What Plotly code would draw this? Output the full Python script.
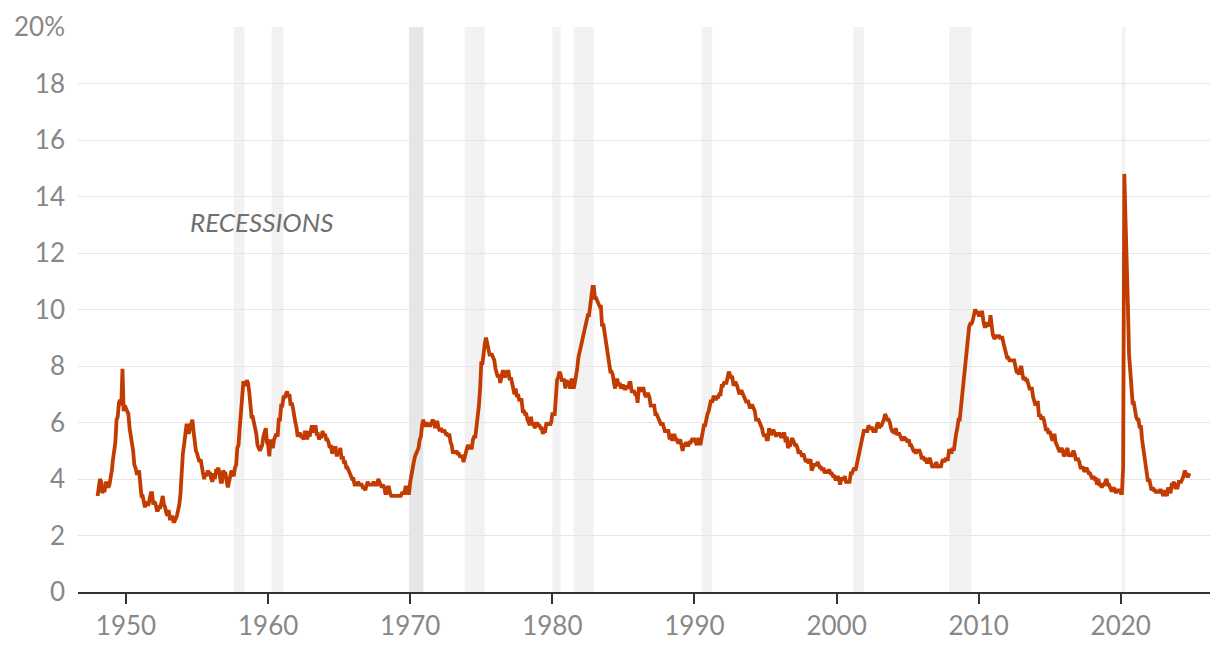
import plotly.graph_objects as go

# Monthly U.S. unemployment rate (%), starting January 1948
rate_1940s = [
    3.4, 3.8, 4.0, 3.9, 3.5, 3.6, 3.6, 3.9, 3.8, 3.7, 3.8, 4.0,
    4.3, 4.7, 5.0, 5.3, 6.1, 6.2, 6.7, 6.8, 6.6, 7.9, 6.4, 6.6,
]
rate_1950s = [
    6.5, 6.4, 6.3, 5.8, 5.5, 5.4, 5.0, 4.5, 4.4, 4.2, 4.2, 4.3,
    3.7, 3.4, 3.4, 3.1, 3.0, 3.2, 3.1, 3.1, 3.3, 3.5, 3.5, 3.1,
    3.2, 3.1, 2.9, 2.9, 3.0, 3.0, 3.2, 3.4, 3.1, 3.0, 2.8, 2.7,
    2.9, 2.6, 2.6, 2.7, 2.5, 2.5, 2.6, 2.7, 2.9, 3.1, 3.5, 4.5,
    4.9, 5.2, 5.7, 5.9, 5.9, 5.6, 5.8, 6.0, 6.1, 5.7, 5.3, 5.0,
    4.9, 4.7, 4.6, 4.7, 4.3, 4.2, 4.0, 4.2, 4.1, 4.3, 4.2, 4.2,
    4.0, 3.9, 4.2, 4.0, 4.3, 4.3, 4.4, 4.1, 3.9, 3.9, 4.3, 4.2,
    4.2, 3.9, 3.7, 3.9, 4.1, 4.3, 4.2, 4.1, 4.4, 4.5, 5.1, 5.2,
    5.8, 6.4, 6.7, 7.4, 7.4, 7.3, 7.5, 7.4, 7.1, 6.7, 6.2, 6.2,
    6.0, 5.9, 5.6, 5.2, 5.1, 5.0, 5.1, 5.2, 5.5, 5.7, 5.8, 5.3,
]
rate_1960s = [
    5.2, 4.8, 5.4, 5.2, 5.1, 5.4, 5.5, 5.6, 5.5, 6.1, 6.1, 6.6,
    6.6, 6.9, 6.9, 7.0, 7.1, 6.9, 7.0, 6.6, 6.7, 6.5, 6.1, 6.0,
    5.8, 5.5, 5.6, 5.6, 5.5, 5.5, 5.4, 5.7, 5.6, 5.4, 5.7, 5.5,
    5.7, 5.9, 5.7, 5.7, 5.9, 5.6, 5.6, 5.4, 5.5, 5.5, 5.7, 5.5,
    5.6, 5.4, 5.4, 5.3, 5.1, 5.2, 4.9, 5.0, 5.1, 5.1, 4.8, 5.0,
    4.9, 5.1, 4.7, 4.8, 4.6, 4.6, 4.4, 4.4, 4.3, 4.2, 4.1, 4.0,
    4.0, 3.8, 3.8, 3.8, 3.9, 3.8, 3.8, 3.8, 3.7, 3.7, 3.6, 3.8,
    3.9, 3.8, 3.8, 3.8, 3.8, 3.9, 3.8, 3.8, 3.8, 4.0, 3.9, 3.8,
    3.7, 3.8, 3.7, 3.5, 3.5, 3.7, 3.7, 3.5, 3.4, 3.4, 3.4, 3.4,
    3.4, 3.4, 3.4, 3.4, 3.4, 3.5, 3.5, 3.5, 3.7, 3.7, 3.5, 3.5,
]
rate_1970s = [
    3.9, 4.2, 4.4, 4.6, 4.8, 4.9, 5.0, 5.1, 5.4, 5.5, 5.9, 6.1,
    5.9, 5.9, 6.0, 5.9, 5.9, 5.9, 6.0, 6.1, 6.0, 5.8, 6.0, 6.0,
    5.8, 5.7, 5.8, 5.7, 5.7, 5.7, 5.6, 5.6, 5.5, 5.6, 5.3, 5.2,
    4.9, 5.0, 4.9, 5.0, 4.9, 4.9, 4.8, 4.8, 4.8, 4.6, 4.8, 4.9,
    5.1, 5.2, 5.1, 5.1, 5.1, 5.4, 5.5, 5.5, 5.9, 6.0, 6.6, 7.2,
    8.1, 8.1, 8.6, 8.8, 9.0, 8.8, 8.6, 8.4, 8.4, 8.4, 8.3, 8.2,
    7.9, 7.7, 7.6, 7.7, 7.4, 7.6, 7.8, 7.8, 7.6, 7.7, 7.8, 7.8,
    7.5, 7.6, 7.4, 7.2, 7.0, 7.2, 6.9, 7.0, 6.8, 6.8, 6.8, 6.4,
    6.4, 6.3, 6.3, 6.1, 6.0, 5.9, 6.2, 5.9, 6.0, 5.8, 5.9, 6.0,
    5.9, 5.9, 5.8, 5.8, 5.6, 5.7, 5.7, 6.0, 5.9, 6.0, 5.9, 6.0,
]
rate_1980s = [
    6.3, 6.3, 6.3, 6.9, 7.5, 7.6, 7.8, 7.7, 7.5, 7.5, 7.5, 7.2,
    7.5, 7.4, 7.4, 7.2, 7.5, 7.5, 7.2, 7.4, 7.6, 7.9, 8.3, 8.5,
    8.6, 8.9, 9.0, 9.3, 9.4, 9.6, 9.8, 9.8, 10.1, 10.4, 10.8, 10.8,
    10.4, 10.4, 10.3, 10.2, 10.1, 10.1, 9.4, 9.5, 9.2, 8.8, 8.5, 8.3,
    8.0, 7.8, 7.8, 7.7, 7.4, 7.2, 7.5, 7.5, 7.3, 7.4, 7.2, 7.3,
    7.3, 7.2, 7.2, 7.3, 7.2, 7.4, 7.4, 7.1, 7.1, 7.1, 7.0, 7.0,
    6.7, 7.2, 7.2, 7.1, 7.2, 7.2, 7.0, 6.9, 7.0, 7.0, 6.9, 6.6,
    6.6, 6.6, 6.6, 6.3, 6.3, 6.2, 6.1, 6.0, 5.9, 6.0, 5.8, 5.7,
    5.7, 5.7, 5.7, 5.4, 5.6, 5.4, 5.4, 5.6, 5.4, 5.4, 5.3, 5.3,
    5.4, 5.2, 5.0, 5.2, 5.2, 5.3, 5.2, 5.2, 5.3, 5.3, 5.4, 5.4,
]
rate_1990s = [
    5.4, 5.3, 5.2, 5.4, 5.4, 5.2, 5.5, 5.7, 5.9, 5.9, 6.2, 6.3,
    6.4, 6.6, 6.8, 6.7, 6.9, 6.9, 6.8, 6.9, 6.9, 7.0, 7.0, 7.3,
    7.3, 7.4, 7.4, 7.4, 7.6, 7.8, 7.7, 7.6, 7.6, 7.3, 7.4, 7.4,
    7.3, 7.1, 7.0, 7.1, 7.1, 7.0, 6.9, 6.8, 6.7, 6.8, 6.6, 6.5,
    6.6, 6.6, 6.5, 6.4, 6.1, 6.1, 6.1, 6.0, 5.9, 5.8, 5.6, 5.5,
    5.6, 5.4, 5.4, 5.8, 5.6, 5.6, 5.7, 5.7, 5.6, 5.5, 5.6, 5.6,
    5.6, 5.5, 5.5, 5.6, 5.6, 5.3, 5.5, 5.1, 5.2, 5.2, 5.4, 5.4,
    5.3, 5.2, 5.2, 5.1, 4.9, 5.0, 4.9, 4.8, 4.9, 4.7, 4.6, 4.7,
    4.6, 4.6, 4.7, 4.3, 4.4, 4.5, 4.5, 4.5, 4.6, 4.5, 4.4, 4.4,
    4.3, 4.4, 4.2, 4.3, 4.2, 4.3, 4.3, 4.2, 4.2, 4.1, 4.1, 4.0,
]
rate_2000s = [
    4.0, 4.1, 4.0, 3.8, 4.0, 4.0, 4.0, 4.1, 3.9, 3.9, 3.9, 3.9,
    4.2, 4.2, 4.3, 4.4, 4.3, 4.5, 4.6, 4.9, 5.0, 5.3, 5.5, 5.7,
    5.7, 5.7, 5.7, 5.9, 5.8, 5.8, 5.8, 5.7, 5.7, 5.7, 5.9, 6.0,
    5.8, 5.9, 5.9, 6.0, 6.1, 6.3, 6.2, 6.1, 6.1, 6.0, 5.8, 5.7,
    5.7, 5.6, 5.8, 5.6, 5.6, 5.6, 5.5, 5.4, 5.4, 5.5, 5.4, 5.4,
    5.3, 5.4, 5.2, 5.2, 5.1, 5.0, 5.0, 4.9, 5.0, 5.0, 5.0, 4.9,
    4.7, 4.8, 4.7, 4.7, 4.6, 4.6, 4.7, 4.7, 4.5, 4.4, 4.5, 4.4,
    4.6, 4.5, 4.4, 4.5, 4.4, 4.6, 4.7, 4.6, 4.7, 4.7, 4.7, 5.0,
    5.0, 4.9, 5.1, 5.0, 5.4, 5.6, 5.8, 6.1, 6.1, 6.5, 6.8, 7.3,
    7.8, 8.3, 8.7, 9.0, 9.4, 9.5, 9.5, 9.6, 9.8, 10.0, 9.9, 9.9,
]
rate_2010s = [
    9.8, 9.8, 9.9, 9.9, 9.6, 9.4, 9.4, 9.5, 9.5, 9.4, 9.8, 9.3,
    9.1, 9.0, 9.0, 9.1, 9.0, 9.1, 9.0, 9.0, 9.0, 8.8, 8.6, 8.5,
    8.3, 8.3, 8.2, 8.2, 8.2, 8.2, 8.2, 8.0, 7.8, 7.8, 7.7, 7.9,
    8.0, 7.7, 7.5, 7.6, 7.5, 7.5, 7.3, 7.2, 7.2, 7.2, 6.9, 6.7,
    6.6, 6.7, 6.7, 6.2, 6.3, 6.1, 6.2, 6.1, 5.9, 5.7, 5.8, 5.6,
    5.7, 5.5, 5.4, 5.4, 5.6, 5.3, 5.2, 5.1, 5.0, 5.0, 5.1, 5.0,
    4.8, 4.9, 5.0, 5.1, 4.8, 4.9, 4.8, 4.9, 5.0, 4.9, 4.7, 4.7,
    4.7, 4.6, 4.4, 4.4, 4.4, 4.3, 4.3, 4.4, 4.3, 4.2, 4.2, 4.1,
    4.0, 4.1, 4.0, 4.0, 3.8, 4.0, 3.8, 3.8, 3.7, 3.8, 3.8, 3.9,
    4.0, 3.8, 3.8, 3.7, 3.6, 3.6, 3.7, 3.6, 3.5, 3.6, 3.6, 3.6,
]
rate_2020s = [
    3.5, 3.5, 4.4, 14.8, 13.2, 11.0, 10.2, 8.4, 7.8, 6.9, 6.7, 6.7,
    6.4, 6.2, 6.1, 6.1, 5.8, 5.9, 5.4, 5.1, 4.7, 4.5, 4.2, 3.9,
    4.0, 3.8, 3.6, 3.7, 3.6, 3.6, 3.5, 3.6, 3.5, 3.6, 3.6, 3.5,
    3.4, 3.6, 3.5, 3.4, 3.7, 3.6, 3.5, 3.8, 3.8, 3.9, 3.7, 3.7,
    3.7, 3.9, 3.9, 3.9, 4.0, 4.1, 4.3, 4.2, 4.1, 4.1, 4.2,
]
start_year = 1948

# Recessions (decimal years) shown as shaded bands
recession_start = [1957.58, 1960.25, 1969.92, 1973.83, 1980.0, 1981.5, 1990.5, 2001.17, 2007.92, 2020.08]
recession_end = [1958.33, 1961.08, 1970.92, 1975.25, 1980.58, 1982.92, 1991.25, 2001.92, 2009.5, 2020.33]

tick_years = [1950, 1960, 1970, 1980, 1990, 2000, 2010, 2020]
y_ticks = [0, 2, 4, 6, 8, 10, 12, 14, 16, 18, 20]
y_tick_text = ["0", "2", "4", "6", "8", "10", "12", "14", "16", "18", "20%"]

rates = rate_1940s + rate_1950s + rate_1960s + rate_1970s + rate_1980s + rate_1990s + rate_2000s + rate_2010s + rate_2020s
x_vals = [start_year + i / 12 for i in range(len(rates))]

fig = go.Figure()

shapes = []
for s, e in zip(recession_start, recession_end):
    color = "#e6e6e6" if s == 1969.92 else "#f2f2f2"
    shapes.append(dict(type="rect", xref="x", yref="y", x0=s, x1=e, y0=0, y1=20,
                       fillcolor=color, line=dict(width=0), layer="below"))

fig.add_trace(go.Scatter(
    x=x_vals, y=rates, mode="lines",
    line=dict(color="#c23c02", width=3.8),
    hoverinfo="skip", showlegend=False,
))

fig.add_annotation(
    x=1954.35, y=13.1, xref="x", yref="y", text="<i>RECESSIONS</i>", showarrow=False,
    xanchor="left", yanchor="middle", font=dict(family="Lato", size=26, color="#6f6f6f"),
)

fig.update_layout(
    width=1204, height=642,
    margin=dict(l=70, r=2, t=19, b=58),
    plot_bgcolor="white", paper_bgcolor="white",
    shapes=shapes,
    font=dict(family="Lato", size=26, color="#888888"),
    xaxis=dict(
        range=[1946.62, 2026.28], tickmode="array", tickvals=tick_years,
        ticktext=[str(t) for t in tick_years],
        showgrid=False, zeroline=False, showline=True, linecolor="#333333", linewidth=2,
        ticks="outside", ticklen=10, tickwidth=2, tickcolor="#333333",
        tickfont=dict(family="Lato", size=26, color="#888888"),
    ),
    yaxis=dict(
        range=[0, 20], tickmode="array", tickvals=y_ticks, ticktext=y_tick_text,
        showgrid=True, gridcolor="#e6e6e6", gridwidth=1.3, zeroline=False, showline=False,
        ticks="", ticklabelstandoff=12,
        tickfont=dict(family="Lato", size=26, color="#888888"),
    ),
)

fig.write_html("out.html")
